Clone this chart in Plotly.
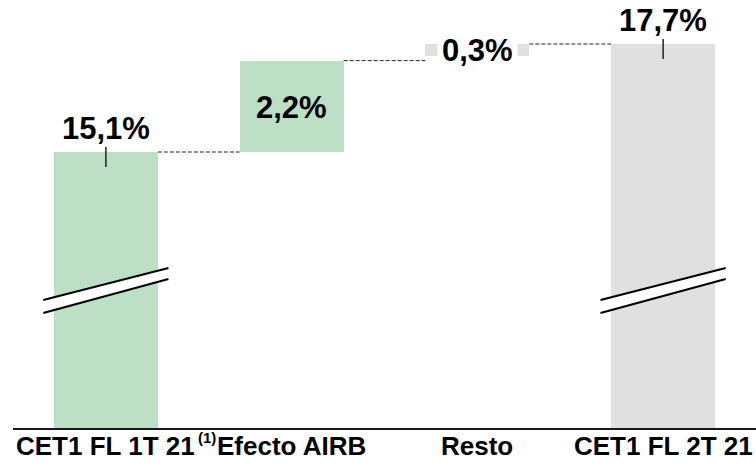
import plotly.graph_objects as go

# ---- data ----
categories = ["CET1 FL 1T 21", "Efecto AIRB", "Resto", "CET1 FL 2T 21"]
start_value = 15.1
deltas = [2.2, 0.3]
end_value = 17.7
value_labels = ["15,1%", "2,2%", "0,3%", "17,7%"]
footnote = "(1)"

# ---- styles ----
GREEN = "#bddfc6"
GREY = "#e0e0e0"
FONT = "Liberation Sans, Arial, sans-serif"
W, H = 756, 466
M_L, M_R, M_T, M_B = 13, 0, 0, 38
PLOT_H = H - M_T - M_B
Y_TOP, Y_BOT = 18.759, 8.456
BAR_W = 0.56

def py(pix):
    """pixel (from top of plot area) -> data y"""
    return Y_TOP - pix * (Y_TOP - Y_BOT) / PLOT_H

# bases / heights built from the data
heights = [start_value, deltas[0], deltas[1], end_value]
bases = [0, start_value, end_value - deltas[1], 0]
colors = [GREEN, GREEN, GREY, GREY]
xs = list(range(len(categories)))

fig = go.Figure()
fig.add_trace(go.Bar(x=xs, y=heights, base=bases, width=BAR_W,
                     marker=dict(color=colors, line=dict(width=0)),
                     hoverinfo="skip", showlegend=False))

shapes = []
# dashed connectors
conn = [(0, start_value, 1), (1, start_value + deltas[0], 2), (2, end_value, 3)]
for i, yv, j in conn:
    shapes.append(dict(type="line", xref="x", yref="y",
                       x0=i + BAR_W / 2, x1=j - BAR_W / 2, y0=yv, y1=yv,
                       line=dict(color="#222222", width=1, dash="4px,2px")))

# small vertical tick marks on totals
for i, yv in [(0, start_value), (3, end_value)]:
    top_pix = (Y_TOP - yv) / (Y_TOP - Y_BOT) * PLOT_H
    shapes.append(dict(type="line", xref="x", yref="y", x0=i, x1=i,
                       y0=py(top_pix - 5), y1=py(top_pix + 15),
                       line=dict(color="#222222", width=1.5)))

# axis break marks
for i in [0, 3]:
    x0, x1 = i - 0.337, i + 0.337
    yul, yur, yll, ylr = py(300), py(268), py(313), py(279)
    shapes.append(dict(type="path", xref="x", yref="y",
                       path=f"M {x0},{yul} L {x1},{yur} L {x1},{ylr} L {x0},{yll} Z",
                       fillcolor="white", line=dict(width=0)))
    shapes.append(dict(type="line", xref="x", yref="y", x0=x0, x1=x1, y0=yul, y1=yur,
                       line=dict(color="black", width=2)))
    shapes.append(dict(type="line", xref="x", yref="y", x0=x0, x1=x1, y0=yll, y1=ylr,
                       line=dict(color="black", width=2)))

annotations = []
lab_font = dict(family=FONT, size=31, color="black")
annotations.append(dict(x=0, y=start_value, xref="x", yref="y", text=f"<b>{value_labels[0]}</b>",
                        showarrow=False, yanchor="middle", yshift=24, font=lab_font))
annotations.append(dict(x=1, y=start_value + deltas[0] / 2, xref="x", yref="y",
                        text=f"<b>{value_labels[1]}</b>", showarrow=False,
                        yanchor="middle", yshift=-1, font=lab_font))
annotations.append(dict(x=2, y=end_value - deltas[1] / 2, xref="x", yref="y",
                        text=f"<b>{value_labels[2]}</b>", showarrow=False,
                        yanchor="middle", bgcolor="white", borderpad=4, font=lab_font))
annotations.append(dict(x=3, y=end_value, xref="x", yref="y", text=f"<b>{value_labels[3]}</b>",
                        showarrow=False, yanchor="middle", yshift=23, font=lab_font))
# category labels
tick_font = dict(family=FONT, size=26, color="black")
for i, c in zip(xs, categories):
    annotations.append(dict(x=i, y=0, xref="x", yref="paper", text=f"<b>{c}</b>",
                            showarrow=False, xanchor="center", yanchor="middle",
                            yshift=-18, font=tick_font))
annotations.append(dict(x=0, y=0, xref="x", yref="paper", text=f"<b>{footnote}</b>",
                        showarrow=False, xanchor="center", yanchor="middle",
                        xshift=101, yshift=-9, font=dict(family=FONT, size=15, color="black")))

fig.update_layout(
    width=W, height=H,
    margin=dict(l=M_L, r=M_R, t=M_T, b=M_B, pad=0),
    paper_bgcolor="white", plot_bgcolor="white",
    bargap=0,
    shapes=shapes, annotations=annotations,
    xaxis=dict(range=[-0.5, 3.5], tickvals=xs, showticklabels=False,
               showline=True, linecolor="#1a1a1a", linewidth=2,
               ticks="", showgrid=False, zeroline=False, fixedrange=True,
               automargin=False),
    yaxis=dict(range=[Y_BOT, Y_TOP], showticklabels=False, showgrid=False,
               zeroline=False, showline=False, ticks="", fixedrange=True,
               automargin=False),
)

fig.write_html("out.html", config={"displayModeBar": False},
               post_script="document.body.style.margin='0';document.body.style.padding='0';")
